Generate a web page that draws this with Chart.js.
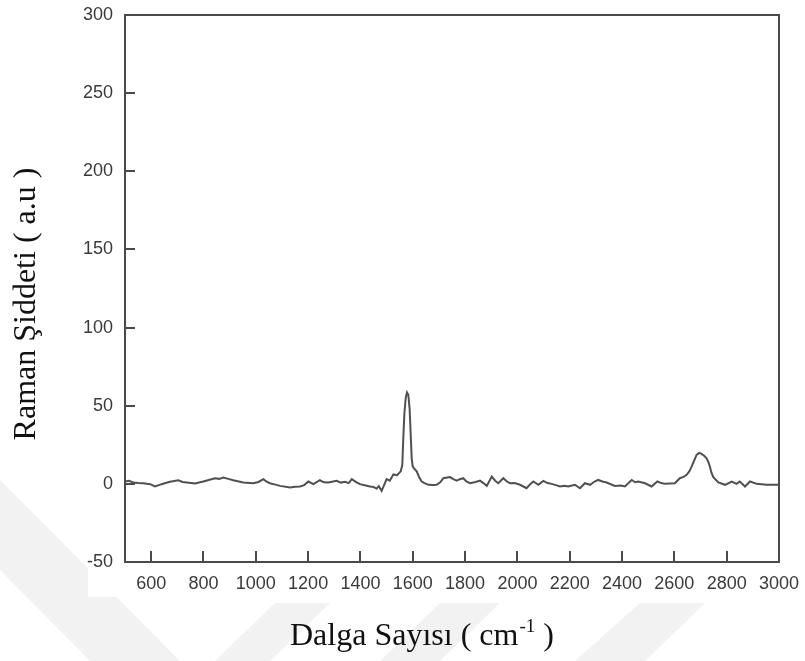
<!DOCTYPE html>
<html>
<head>
<meta charset="utf-8">
<script src="https://cdn.jsdelivr.net/npm/chart.js@4"></script>
<style>
  html, body { margin: 0; padding: 0; background: #fff; }
  canvas { display: block; }
</style>
</head>
<body>
<canvas id="raman" width="805" height="661"></canvas>
<script>
// Raman spectrum
const wavenumber = [
  500, 515, 532, 550, 570, 596, 615, 640, 655, 672, 704, 720, 736, 768, 799, 820, 844, 860, 876, 895,
  914, 935, 952, 990, 1010, 1029, 1040, 1054, 1075, 1093, 1131, 1150, 1169, 1185, 1201, 1220, 1245, 1260, 1277, 1309,
  1325, 1341, 1355, 1367, 1385, 1398, 1420, 1437, 1450, 1462, 1470, 1481, 1490, 1500, 1512, 1526, 1540, 1554, 1560, 1564,
  1568, 1573, 1578, 1583, 1588, 1592, 1596, 1600, 1607, 1615, 1625, 1634, 1645, 1660, 1678, 1691, 1705, 1717, 1742, 1755,
  1768, 1780, 1793, 1805, 1819, 1840, 1857, 1870, 1883, 1902, 1915, 1927, 1946, 1960, 1972, 1990, 2010, 2035, 2050, 2061,
  2080, 2099, 2115, 2131, 2150, 2163, 2180, 2194, 2220, 2239, 2258, 2278, 2295, 2309, 2325, 2341, 2373, 2395, 2411, 2437,
  2450, 2462, 2488, 2513, 2535, 2550, 2564, 2602, 2621, 2635, 2647, 2657, 2666, 2676, 2685, 2695, 2704, 2715, 2723, 2730,
  2736, 2742, 2749, 2768, 2794, 2819, 2838, 2850, 2870, 2889, 2915, 2953, 2991, 3000
];
const intensity = [
  1.5, 2, 0.9, 0.5, 0.4, -0.2, -1.7, -0.2, 0.5, 1.3, 2.3, 1.2, 0.9, 0.2, 1.5, 2.5, 3.6, 3.2, 4, 3.2,
  2.3, 1.5, 0.9, 0.4, 1.2, 3, 1.5, 0.4, -0.5, -1.3, -2.3, -1.8, -1.7, -0.8, 1.5, -0.2, 2.3, 1, 0.9, 2,
  0.8, 1.3, 0.5, 3, 1, -0.2, -1, -1.7, -2, -3, -1.5, -4.5, -1, 3, 2, 6, 5.5, 8, 12, 30,
  45, 55, 58.5, 57, 48, 32, 16, 11, 9.5, 8, 4, 1.5, 0.5, -0.6, -0.7, -0.6, 1, 3.6, 4.3, 3,
  2.1, 3, 3.6, 1.5, 0.4, 1.2, 2.1, 0.5, -1.3, 4.7, 2, 0.4, 3.6, 1.5, 0.4, 0.5, -0.6, -2.8, 0, 1.5,
  -0.6, 1.9, 0.5, 0, -1, -1.7, -1.2, -1.7, -0.6, -2.8, 0.4, -0.6, 1.5, 2.5, 1.5, 0.9, -1.3, -1, -1.7, 2.5,
  1, 1.5, 0.4, -1.7, 1.5, 0.5, 0, 0.4, 3.6, 4.5, 5.8, 8, 11, 15, 18.5, 19.8, 19.2, 17.8, 16.4, 14,
  11, 7, 4.3, 0.9, -0.6, 1.5, 0, 1.5, -1.7, 1.5, 0, -0.6, -0.6, -0.6
];
const xTicks = [600, 800, 1000, 1200, 1400, 1600, 1800, 2000, 2200, 2400, 2600, 2800, 3000];
const yTicks = [-50, 0, 50, 100, 150, 200, 250, 300];

const xTitle = 'Dalga Sayısı ( cm';
const xTitleSup = '-1';
const xTitleEnd = ' )';
const yTitle = 'Raman Şiddeti ( a.u )';

const inkColor = '#4a4a4a';
const tickFont = { family: '"Liberation Sans", Arial, sans-serif', size: 18 };
const titleFont = '32px "Liberation Serif", "Times New Roman", serif';

// faint thesis watermark behind the figure
const watermarkPlugin = {
  id: 'watermark',
  beforeDraw(chart) {
    const ctx = chart.ctx;
    ctx.save();
    ctx.fillStyle = '#fff';
    ctx.fillRect(0, 0, chart.width, chart.height);
    ctx.fillStyle = '#f2f2f2';
    const shapes = [
      [[0, 480], [0, 570], [90, 661], [180, 661]],
      [[215, 661], [270, 661], [330, 603], [275, 603]],
      [[380, 661], [440, 661], [500, 603], [440, 603]],
      [[575, 661], [645, 661], [705, 603], [640, 603]]
    ];
    shapes.forEach(s => {
      ctx.beginPath();
      ctx.moveTo(s[0][0], s[0][1]);
      s.slice(1).forEach(p => ctx.lineTo(p[0], p[1]));
      ctx.closePath();
      ctx.fill();
    });
    // white box of the pasted plot image
    ctx.fillStyle = '#fff';
    ctx.fillRect(88, 0, 717, 597);
    ctx.restore();
  }
};

// box frame, inward tick marks and axis titles
const framePlugin = {
  id: 'frame',
  afterDatasetsDraw(chart) {
    const ctx = chart.ctx;
    const a = chart.chartArea;
    const xs = chart.scales.x, ys = chart.scales.y;
    ctx.save();
    ctx.strokeStyle = inkColor;
    ctx.lineWidth = 2;
    ctx.strokeRect(a.left, a.top, a.right - a.left, a.bottom - a.top);
    ctx.beginPath();
    xTicks.forEach(v => {
      const px = Math.round(xs.getPixelForValue(v));
      ctx.moveTo(px, a.bottom);
      ctx.lineTo(px, a.bottom - 11);
    });
    yTicks.forEach(v => {
      const py = Math.round(ys.getPixelForValue(v));
      ctx.moveTo(a.left, py);
      ctx.lineTo(a.left + 10, py);
    });
    ctx.stroke();

    ctx.fillStyle = '#111';
    ctx.font = titleFont;
    ctx.textBaseline = 'alphabetic';
    // x title with superscript
    let x = 290;
    const base = 645;
    ctx.textAlign = 'left';
    ctx.fillText(xTitle, x, base);
    x += ctx.measureText(xTitle).width;
    ctx.font = '19px "Liberation Serif", "Times New Roman", serif';
    ctx.fillText(xTitleSup, x + 1, base - 13);
    x += ctx.measureText(xTitleSup).width + 1;
    ctx.font = titleFont;
    ctx.fillText(xTitleEnd, x, base);
    // y title, rotated
    ctx.translate(35, 304);
    ctx.rotate(-Math.PI / 2);
    ctx.textAlign = 'center';
    ctx.fillText(yTitle, 0, 0);
    ctx.restore();
  }
};

const noPad = s => { s.paddingLeft = 0; s.paddingRight = 0; s.paddingTop = 0; s.paddingBottom = 0; };

new Chart(document.getElementById('raman'), {
  type: 'scatter',
  data: {
    datasets: [{
      data: wavenumber.map((w, i) => ({ x: w, y: intensity[i] })),
      showLine: true,
      borderColor: '#505050',
      borderWidth: 2,
      pointRadius: 0,
      tension: 0
    }]
  },
  options: {
    responsive: false,
    animation: false,
    devicePixelRatio: 1,
    layout: { padding: { top: 15, right: 26, left: 0, bottom: 0 } },
    plugins: { legend: { display: false }, tooltip: { enabled: false } },
    scales: {
      x: {
        type: 'linear',
        min: 500,
        max: 3000,
        afterBuildTicks: s => { s.ticks = xTicks.map(v => ({ value: v })); },
        afterFit: s => { s.height = 99; noPad(s); },
        grid: { display: false, drawTicks: false },
        border: { display: false },
        ticks: { font: tickFont, color: '#3a3a3a', padding: 11, maxRotation: 0, autoSkip: false, callback: v => String(v) }
      },
      y: {
        min: -50,
        max: 300,
        afterBuildTicks: s => { s.ticks = yTicks.map(v => ({ value: v })); },
        afterFit: s => { s.width = 125; noPad(s); },
        grid: { display: false, drawTicks: false },
        border: { display: false },
        ticks: { font: tickFont, color: '#3a3a3a', padding: 12, callback: v => String(v) }
      }
    }
  },
  plugins: [watermarkPlugin, framePlugin]
});
</script>
</body>
</html>
